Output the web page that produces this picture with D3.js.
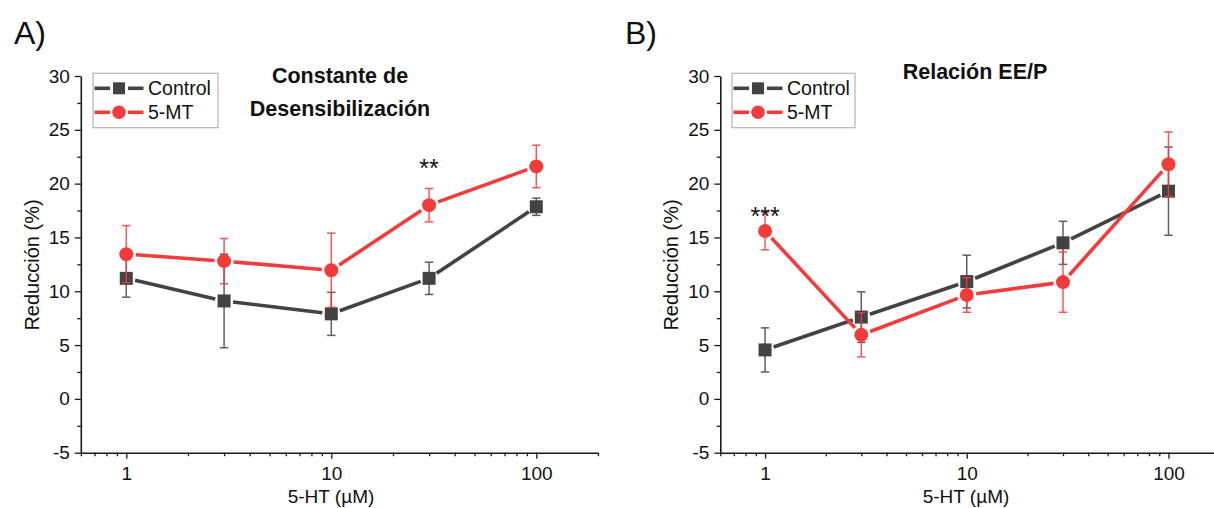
<!DOCTYPE html>
<html>
<head>
<meta charset="utf-8">
<script src="https://cdn.jsdelivr.net/npm/d3@7"></script>
<style>
  html, body { margin: 0; padding: 0; background: #ffffff; }
  svg { display: block; }
  text { font-family: "Liberation Sans", Arial, sans-serif; fill: #111; }
</style>
</head>
<body>
<svg id="fig" width="1214" height="508"></svg>
<script>
// Concentraciones de 5-HT (µM)
const doses = [1, 3, 10, 30, 100];

// Panel A: constante de desensibilización (% de reducción, media ± EEM)
const controlA    = [11.2, 9.1, 7.9, 11.2, 17.85];
const controlAErr = [1.75, 4.35, 2.0, 1.5, 0.8];
const mtA         = [13.45, 12.8, 11.95, 18.0, 21.6];
const mtAErr      = [2.65, 2.1, 3.45, 1.55, 1.97];

// Panel B: relación EE/P (% de reducción, media ± EEM)
const controlB    = [4.55, 7.6, 10.9, 14.5, 19.3];
const controlBErr = [2.05, 2.35, 2.45, 2.0, 4.1];
const mtB         = [15.6, 5.95, 9.65, 10.85, 21.8];
const mtBErr      = [1.75, 2.05, 1.6, 2.8, 3.0];

// Etiquetas de ejes
const xTickValues = [1, 10, 100];
const yTickValues = [-5, 0, 5, 10, 15, 20, 25, 30];
const seriesNames = ["Control", "5-MT"];

const COLORS = { "Control": "#434343", "5-MT": "#f23c3c" };
const svg = d3.select("#fig");

function minorLogTicks(lo, hi) {
  const out = [];
  for (let e = -1; e <= 2; e++) {
    for (let m = 2; m <= 9; m++) {
      const v = m * Math.pow(10, e);
      if (v >= lo && v <= hi) out.push(v);
    }
  }
  return out;
}

function drawPanel(cfg) {
  const g = svg.append("g");
  const x = d3.scaleLog().domain([0.6, 200]).range(cfg.xRange);
  const y = d3.scaleLinear().domain([-5, 30]).range([452.7, 76]);

  // Ejes
  g.append("g").attr("transform", `translate(0,${y(-5)})`)
    .call(d3.axisBottom(x).tickValues(xTickValues).tickFormat(d => String(d))
      .tickSize(6).tickSizeOuter(0).tickPadding(8));
  const xMinor = g.append("g").attr("transform", `translate(0,${y(-5)})`)
    .call(d3.axisBottom(x).tickValues(minorLogTicks(0.6, 200)).tickFormat("")
      .tickSize(3.5).tickSizeOuter(0));
  xMinor.select(".domain").remove();

  g.append("g").attr("transform", `translate(${cfg.xRange[0]},0)`)
    .call(d3.axisLeft(y).tickValues(yTickValues).tickFormat(d => String(d))
      .tickSize(6).tickSizeOuter(0).tickPadding(5));
  const yMinor = g.append("g").attr("transform", `translate(${cfg.xRange[0]},0)`)
    .call(d3.axisLeft(y).tickValues(d3.range(-2.5, 30, 5)).tickFormat("").tickSize(3.5).tickSizeOuter(0));
  yMinor.select(".domain").remove();

  g.selectAll(".domain").attr("stroke", "#1a1a1a").attr("stroke-width", 1.6);
  g.selectAll(".tick line").attr("stroke", "#1a1a1a").attr("stroke-width", 1.3);
  g.selectAll(".tick text").attr("font-size", 19).attr("fill", "#111")
    .attr("font-family", "Liberation Sans, Arial, sans-serif");

  // Títulos de ejes
  g.append("text").attr("x", cfg.xLabelX).attr("y", 503).attr("text-anchor", "middle")
    .attr("font-size", 19).text("5-HT (µM)");
  g.append("text").attr("transform", `translate(${cfg.yLabelX},265) rotate(-90)`)
    .attr("text-anchor", "middle").attr("font-size", 20).text("Reducción (%)");

  // Letra del panel y título
  g.append("text").attr("x", cfg.letterX).attr("y", 43.5).attr("font-size", 32).text(cfg.letter);
  cfg.title.forEach((line, i) => {
    g.append("text").attr("x", cfg.titleX).attr("y", cfg.titleY + i * 32.5)
      .attr("text-anchor", "middle").attr("font-size", 21.5).attr("font-weight", "bold").text(line);
  });

  // Series
  cfg.series.forEach(s => {
    const color = COLORS[s.name];
    const pts = doses.map((d, i) => ({ px: x(d), py: y(s.values[i]), v: s.values[i], e: s.errs[i] }));
    const gap = s.name === "Control" ? 9 : 9.5;

    // Líneas entre puntos, recortadas alrededor de los marcadores
    for (let i = 0; i < pts.length - 1; i++) {
      const a = pts[i], b = pts[i + 1];
      const dx = b.px - a.px, dy = b.py - a.py, len = Math.hypot(dx, dy);
      const ux = dx / len, uy = dy / len;
      g.append("line")
        .attr("x1", a.px + ux * gap).attr("y1", a.py + uy * gap)
        .attr("x2", b.px - ux * gap).attr("y2", b.py - uy * gap)
        .attr("stroke", color).attr("stroke-width", 3.6).attr("stroke-linecap", "butt");
    }

    // Marcadores
    if (s.name === "Control") {
      g.selectAll(null).data(pts).enter().append("rect")
        .attr("x", d => d.px - 6.5).attr("y", d => d.py - 6.5)
        .attr("width", 13).attr("height", 13).attr("fill", color);
    } else {
      g.selectAll(null).data(pts).enter().append("circle")
        .attr("cx", d => d.px).attr("cy", d => d.py).attr("r", 7).attr("fill", color);
    }

    // Barras de error
    const eb = g.append("g").attr("stroke", color).attr("stroke-width", 1.5).attr("opacity", 0.85);
    pts.forEach(p => {
      const top = y(p.v + p.e), bot = y(p.v - p.e);
      eb.append("line").attr("x1", p.px).attr("x2", p.px).attr("y1", top).attr("y2", bot);
      eb.append("line").attr("x1", p.px - 4.2).attr("x2", p.px + 4.2).attr("y1", top).attr("y2", top);
      eb.append("line").attr("x1", p.px - 4.2).attr("x2", p.px + 4.2).attr("y1", bot).attr("y2", bot);
    });
  });

  // Significancia
  g.append("text").attr("x", x(cfg.sig.dose)).attr("y", y(cfg.sig.level))
    .attr("text-anchor", "middle").attr("font-size", 25).text(cfg.sig.label);

  // Leyenda
  const L = cfg.legend;
  g.append("rect").attr("x", L.x).attr("y", 73.3).attr("width", L.w).attr("height", 54.4)
    .attr("fill", "#ffffff").attr("stroke", "#b4b4b4").attr("stroke-width", 1.2);
  seriesNames.forEach((name, i) => {
    const cy = 88.3 + i * 24;
    const color = COLORS[name];
    const x0 = L.x + 1.5, x1 = L.x + 50.5, xm = (x0 + x1) / 2;
    g.append("line").attr("x1", x0).attr("x2", xm - 9).attr("y1", cy).attr("y2", cy)
      .attr("stroke", color).attr("stroke-width", 3.6);
    g.append("line").attr("x1", xm + 9).attr("x2", x1).attr("y1", cy).attr("y2", cy)
      .attr("stroke", color).attr("stroke-width", 3.6);
    if (name === "Control") {
      g.append("rect").attr("x", xm - 6).attr("y", cy - 6).attr("width", 12).attr("height", 12).attr("fill", color);
    } else {
      g.append("circle").attr("cx", xm).attr("cy", cy).attr("r", 6.8).attr("fill", color);
    }
    g.append("text").attr("x", x1 + 4.5).attr("y", cy + 7).attr("font-size", 19.5).text(name);
  });
}

drawPanel({
  letter: "A)", letterX: 14,
  xRange: [80.8, 598],
  xLabelX: 331, yLabelX: 39,
  title: ["Constante de", "Desensibilización"], titleX: 340, titleY: 83,
  legend: { x: 93, w: 125 },
  sig: { dose: 30, level: 20.6, label: "**" },
  series: [
    { name: "Control", values: controlA, errs: controlAErr },
    { name: "5-MT", values: mtA, errs: mtAErr }
  ]
});

drawPanel({
  letter: "B)", letterX: 625,
  xRange: [720.3, 1229.2],
  xLabelX: 966, yLabelX: 678,
  title: ["Relación EE/P"], titleX: 975, titleY: 79,
  legend: { x: 732, w: 123 },
  sig: { dose: 1, level: 16.2, label: "***" },
  series: [
    { name: "Control", values: controlB, errs: controlBErr },
    { name: "5-MT", values: mtB, errs: mtBErr }
  ]
});
</script>
</body>
</html>
